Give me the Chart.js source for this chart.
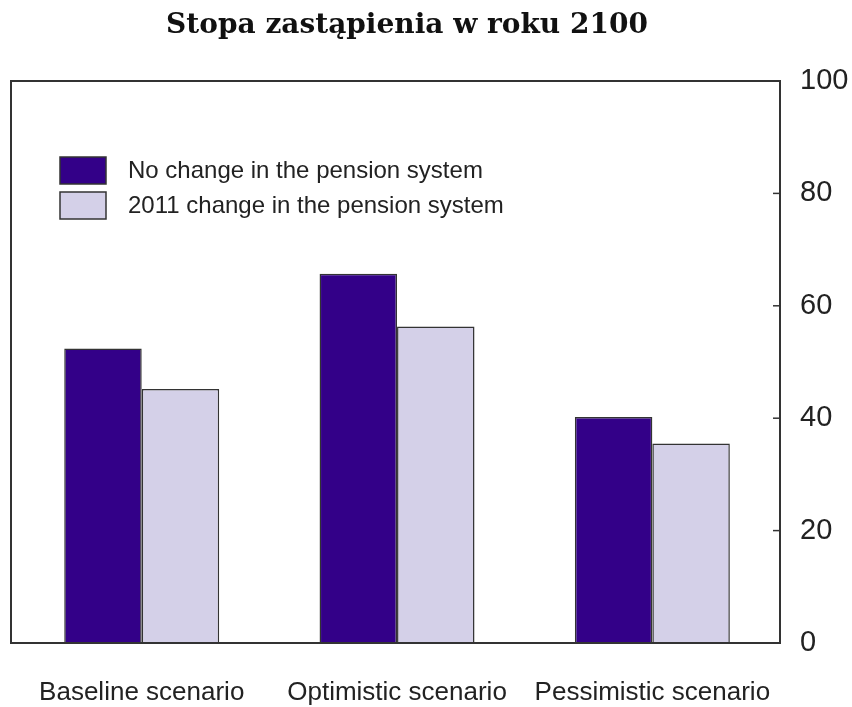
<!DOCTYPE html>
<html>
<head>
<meta charset="utf-8">
<script src="https://cdn.jsdelivr.net/npm/chart.js@4.4.1/dist/chart.umd.min.js"></script>
<style>
  html, body { margin: 0; padding: 0; background: #fff; }
  #wrap { width: 852px; height: 707px; }
</style>
</head>
<body>
<div id="wrap"><canvas id="chart" width="852" height="707"></canvas></div>
<script>
// Data
const chartTitle = 'Stopa zastąpienia w roku 2100';
const scenarios = ['Baseline scenario', 'Optimistic scenario', 'Pessimistic scenario'];
const noChange = [52.4, 65.7, 40.2];
const change2011 = [45.2, 56.3, 35.5];
const seriesNames = ['No change in the pension system', '2011 change in the pension system'];
const yTicks = [0, 20, 40, 60, 80, 100];

const DARK = '#330088';
const LIGHT = '#d4d0e8';
const EDGE = '#333333';

// Title sits a little left of the canvas centre in the original
const titlePlugin = {
    id: 'sideTitle',
    afterDraw(chart) {
        const { ctx } = chart;
        ctx.save();
        ctx.fillStyle = '#111';
        ctx.font = 'bold 28px "DejaVu Serif", Georgia, serif';
        ctx.textAlign = 'center';
        ctx.textBaseline = 'alphabetic';
        ctx.fillText(chartTitle, 407, 33);
        ctx.restore();
    }
};

// Frame round the plot area plus short inward ticks on the right axis
const framePlugin = {
    id: 'frame',
    afterDatasetsDraw(chart) {
        const { ctx, chartArea: a, scales } = chart;
        ctx.save();
        ctx.strokeStyle = EDGE;
        ctx.lineWidth = 2;
        ctx.strokeRect(a.left, a.top, a.right - a.left, a.bottom - a.top);
        ctx.lineWidth = 1.5;
        yTicks.forEach(v => {
            const y = scales.y.getPixelForValue(v);
            ctx.beginPath();
            ctx.moveTo(a.right - 7, y);
            ctx.lineTo(a.right, y);
            ctx.stroke();
        });
        ctx.restore();
    }
};

// Legend drawn inside the plot, top left
const boxLegend = {
    id: 'boxLegend',
    afterDraw(chart) {
        const { ctx } = chart;
        const rows = [157, 192];
        ctx.save();
        chart.data.datasets.forEach((ds, i) => {
            const y = rows[i];
            ctx.fillStyle = ds.backgroundColor;
            ctx.fillRect(60, y, 46, 27);
            ctx.strokeStyle = EDGE;
            ctx.lineWidth = 1.5;
            ctx.strokeRect(60, y, 46, 27);
            ctx.fillStyle = '#222';
            ctx.font = '24px "Liberation Sans", Arial, sans-serif';
            ctx.textBaseline = 'middle';
            ctx.fillText(ds.label, 128, y + 14);
        });
        ctx.restore();
    }
};

new Chart(document.getElementById('chart'), {
    type: 'bar',
    data: {
        datasets: [
            {
                label: seriesNames[0],
                data: noChange.map((v, i) => ({ x: i + 1, y: v })),
                backgroundColor: DARK,
                borderColor: EDGE,
                borderWidth: 1.5
            },
            {
                label: seriesNames[1],
                data: change2011.map((v, i) => ({ x: i + 1, y: v })),
                backgroundColor: LIGHT,
                borderColor: EDGE,
                borderWidth: 1.5
            }
        ]
    },
    options: {
        responsive: false,
        animation: false,
        categoryPercentage: 0.607,
        barPercentage: 1,
        layout: { padding: { left: 11, right: 0, top: 81, bottom: 0 } },
        plugins: {
            legend: { display: false },
            tooltip: { enabled: false },
            title: { display: false }
        },
        scales: {
            x: {
                type: 'linear',
                offset: false,
                min: 0.488,
                max: 3.5,
                grid: { display: false },
                border: { display: false },
                afterBuildTicks(scale) {
                    scale.ticks = scenarios.map((s, i) => ({ value: i + 1 }));
                },
                afterFit(scale) { scale.height = 64; },
                ticks: {
                    autoSkip: false,
                    maxRotation: 0,
                    padding: 26,
                    color: '#222',
                    font: { family: '"Liberation Sans", Arial, sans-serif', size: 26 },
                    callback: v => scenarios[v - 1] || ''
                }
            },
            y: {
                position: 'right',
                min: 0,
                max: 100,
                grid: { display: false, drawTicks: false },
                border: { display: false },
                afterBuildTicks(scale) {
                    scale.ticks = yTicks.map(v => ({ value: v }));
                },
                afterFit(scale) { scale.width = 72; },
                ticks: {
                    padding: 20,
                    color: '#222',
                    font: { family: '"Liberation Sans", Arial, sans-serif', size: 29 }
                }
            }
        }
    },
    plugins: [framePlugin, boxLegend, titlePlugin]
});
</script>
</body>
</html>
